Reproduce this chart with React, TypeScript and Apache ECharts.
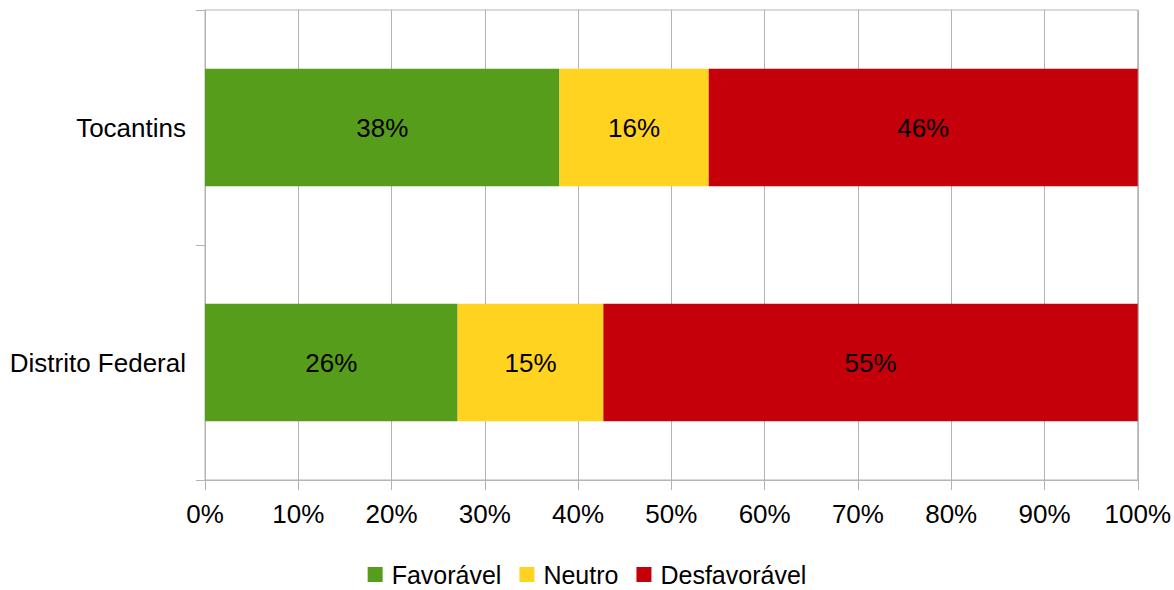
import React, { useEffect, useRef } from "react";
import * as echarts from "echarts";

const categories = ["Distrito Federal", "Tocantins"];
const seriesNames = ["Favorável", "Neutro", "Desfavorável"];
const favoravel = [26, 38];
const neutro = [15, 16];
const desfavoravel = [55, 46];
const colors = ["#579d1c", "#ffd320", "#c5000b"];
const xTicks = [0, 10, 20, 30, 40, 50, 60, 70, 80, 90, 100];

export default function App() {
  const ref = useRef<HTMLDivElement>(null);
  useEffect(() => {
    const chart = echarts.init(ref.current!, undefined, { renderer: "svg" });
    const raw = [favoravel, neutro, desfavoravel];
    const totals = categories.map((_, i) => raw.reduce((s, arr) => s + arr[i], 0));
    const font = "'Liberation Sans', Arial, sans-serif";
    const fs = 26;
    chart.setOption({
      animation: false,
      textStyle: { fontFamily: font },
      grid: {
        left: 205,
        right: 36,
        top: 10,
        bottom: 110,
        show: true,
        borderColor: "#b3b3b3",
        borderWidth: 1,
      },
      legend: {
        top: 562,
        left: "center",
        padding: 0,
        icon: "rect",
        itemWidth: 15,
        itemHeight: 15,
        itemGap: 18,
        textStyle: { fontSize: 25, lineHeight: 25, color: "#000", fontFamily: font, padding: [0, 0, 0, 4] },
        data: seriesNames,
      },
      xAxis: {
        type: "value",
        min: 0,
        max: 100,
        interval: 10,
        axisLine: { show: true, lineStyle: { color: "#b3b3b3" } },
        axisTick: { show: true, length: 10, lineStyle: { color: "#b3b3b3" } },
        splitLine: { show: true, lineStyle: { color: "#b3b3b3" } },
        axisLabel: {
          fontSize: fs,
          color: "#000",
          margin: 21,
          fontFamily: font,
          formatter: (v: number) => (xTicks.includes(v) ? v + "%" : ""),
        },
      },
      yAxis: {
        type: "category",
        data: categories,
        axisLine: { show: true, lineStyle: { color: "#b3b3b3" } },
        axisTick: { show: true, length: 9, lineStyle: { color: "#b3b3b3" } },
        axisLabel: { fontSize: fs, color: "#000", margin: 19, fontFamily: font },
      },
      series: raw.map((arr, si) => ({
        name: seriesNames[si],
        type: "bar",
        stack: "total",
        barCategoryGap: "50%",
        itemStyle: { color: colors[si] },
        label: {
          show: true,
          position: "inside",
          fontSize: fs,
          color: "#000",
          fontFamily: font,
          formatter: (p: any) => arr[p.dataIndex] + "%",
        },
        data: arr.map((v, i) => (v / totals[i]) * 100),
      })),
    });
    return () => chart.dispose();
  }, []);
  return <div ref={ref} style={{ width: 1174, height: 590, position: "absolute", left: 0, top: 0 }} />;
}
